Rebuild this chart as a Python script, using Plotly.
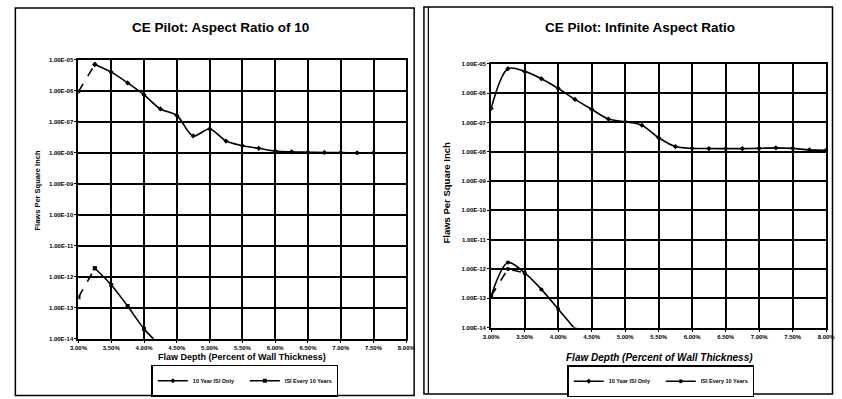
import plotly.graph_objects as go

# ---------------- data ----------------
depth = [0.0300, 0.0325, 0.0350, 0.0375, 0.0400, 0.0425, 0.0450, 0.0475, 0.0500,
         0.0525, 0.0550, 0.0575, 0.0600, 0.0625, 0.0650, 0.0675, 0.0700, 0.0725,
         0.0750, 0.0775, 0.0800]

# Left chart: Aspect Ratio of 10
left_isi_only = [None, 7.1e-6, 4.0e-6, 1.8e-6, 7.4e-7, 2.6e-7, 1.6e-7, 3.5e-8, 5.9e-8,
                 2.4e-8, 1.7e-8, 1.4e-8, 1.15e-8, 1.08e-8, 1.05e-8, 1.03e-8, 1.02e-8,
                 1.0e-8, 1.0e-8, None, None]
left_isi_only_start = [9.5e-7, 7.1e-6]
left_isi_every = [None, 1.9e-12, 5.5e-13, 1.14e-13, 2.1e-14, 6.0e-15]
left_isi_every_start = [2.2e-13, 1.9e-12]

# Right chart: Infinite Aspect Ratio
right_isi_only = [3.0e-7, 6.8e-6, 5.5e-6, 3.1e-6, 1.45e-6, 6.1e-7, 2.8e-7, 1.3e-7, 1.05e-7,
                  8.0e-8, 3.0e-8, 1.5e-8, 1.3e-8, 1.28e-8, 1.27e-8, 1.27e-8, 1.3e-8,
                  1.35e-8, 1.3e-8, 1.15e-8, 1.12e-8]
right_isi_every = [1.2e-13, 1.66e-12, 7.3e-13, 2.0e-13, 4.3e-14, 9.0e-15]
right_isi_every_alt = [1.2e-13, 1.0e-12, 7.3e-13]

y_tickvals = [1e-14, 1e-13, 1e-12, 1e-11, 1e-10, 1e-9, 1e-8, 1e-7, 1e-6, 1e-5]
y_ticktext = ["1.00E-14", "1.00E-13", "1.00E-12", "1.00E-11", "1.00E-10",
              "1.00E-09", "1.00E-08", "1.00E-07", "1.00E-06", "1.00E-05"]
x_tickvals = [0.030, 0.035, 0.040, 0.045, 0.050, 0.055, 0.060, 0.065, 0.070, 0.075, 0.080]
x_ticktext = ["3.00%", "3.50%", "4.00%", "4.50%", "5.00%", "5.50%", "6.00%",
              "6.50%", "7.00%", "7.50%", "8.00%"]

series_names = ["10 Year ISI Only", "ISI Every 10 Years"]
titles = ["CE Pilot: Aspect Ratio of 10", "CE Pilot: Infinite Aspect Ratio"]

FONT = "Liberation Sans, Arial, sans-serif"
W, H = 842, 399

fig = go.Figure()

def line_trace(x, y, xa, ya, name, dash="solid", symbol="diamond", legend="legend",
               showlegend=True, shape="spline"):
    return go.Scatter(
        x=x, y=y, xaxis=xa, yaxis=ya, name=name, mode="lines+markers",
        line=dict(color="black", width=1.6, dash=dash, shape=shape, smoothing=0.9),
        marker=dict(color="black", size=4, symbol=symbol),
        showlegend=showlegend, legend=legend, connectgaps=False,
    )

# left chart
fig.add_trace(line_trace(depth, left_isi_only, "x", "y", series_names[0], symbol="diamond"))
fig.add_trace(line_trace(depth[:2], left_isi_only_start, "x", "y", series_names[0],
                         dash="dash", showlegend=False, shape="linear"))
fig.add_trace(line_trace(depth[:6], left_isi_every, "x", "y", series_names[1], symbol="square"))
fig.add_trace(line_trace(depth[:2], left_isi_every_start, "x", "y", series_names[1],
                         dash="dash", symbol="square", showlegend=False, shape="linear"))

# right chart
fig.add_trace(line_trace(depth, right_isi_only, "x2", "y2", series_names[0],
                         symbol="diamond", legend="legend2"))
fig.add_trace(line_trace(depth[:6], right_isi_every, "x2", "y2", series_names[1],
                         symbol="circle", legend="legend2"))
fig.add_trace(line_trace(depth[:3], right_isi_every_alt, "x2", "y2", series_names[1],
                         dash="dash", symbol="circle", legend="legend2",
                         showlegend=False, shape="linear"))

def px_x(p):
    return p / W

def px_y(p):
    return 1 - p / H

axis_common = dict(
    showline=True, mirror=True, linecolor="black", linewidth=2,
    showgrid=True, gridcolor="black", gridwidth=1.8, zeroline=False,
    ticks="outside", ticklen=2, tickcolor="black",
    tickfont=dict(family=FONT, size=6, color="black", weight="bold"),
)

legend_common = dict(
    orientation="h", xanchor="center", yanchor="middle",
    bordercolor="black", borderwidth=1.5, bgcolor="white",
    font=dict(family=FONT, size=5.5, color="black", weight="bold"),
    itemwidth=30, tracegroupgap=0, entrywidthmode="pixels", entrywidth=47,
)

fig.update_layout(
    width=W, height=H, margin=dict(l=0, r=0, t=0, b=0),
    paper_bgcolor="white", plot_bgcolor="white",
    font=dict(family=FONT, color="black"),
    xaxis=dict(domain=[px_x(71), px_x(406)], anchor="y", range=[0.03, 0.08],
               tickvals=x_tickvals, ticktext=x_ticktext, **axis_common),
    yaxis=dict(domain=[px_y(341), px_y(57.7)], anchor="x", type="log", range=[-14, -5],
               tickvals=y_tickvals, ticktext=y_ticktext, **axis_common),
    xaxis2=dict(domain=[px_x(492.7), px_x(835)], anchor="y2", range=[0.03, 0.08],
                tickvals=x_tickvals, ticktext=x_ticktext, **axis_common),
    yaxis2=dict(domain=[px_y(329.5), px_y(61.7)], anchor="x2", type="log", range=[-14, -5],
                tickvals=y_tickvals, ticktext=y_ticktext, **axis_common),
    legend=dict(x=px_x(241), y=px_y(383.5), **legend_common),
    legend2=dict(x=px_x(666), y=px_y(384), **legend_common),
    showlegend=True,
)

# panel borders
fig.add_shape(type="rect", xref="paper", yref="paper",
              x0=px_x(6.5), x1=px_x(414), y0=px_y(398.5), y1=px_y(5),
              line=dict(color="black", width=1.5), layer="below")
fig.add_shape(type="rect", xref="paper", yref="paper",
              x0=px_x(424), x1=px_x(841.5), y0=px_y(397), y1=px_y(4),
              line=dict(color="black", width=1.5), layer="below")
fig.add_shape(type="line", xref="paper", yref="paper",
              x0=px_x(428.5), x1=px_x(428.5), y0=px_y(397), y1=px_y(4),
              line=dict(color="black", width=1.2), layer="below")

# titles
fig.add_annotation(text="<b>" + titles[0] + "</b>", xref="paper", yref="paper",
                   x=px_x(216), y=px_y(25), showarrow=False, xanchor="center", yanchor="middle",
                   font=dict(family=FONT, size=13.5, color="black"))
fig.add_annotation(text="<b>" + titles[1] + "</b>", xref="paper", yref="paper",
                   x=px_x(645), y=px_y(25), showarrow=False, xanchor="center", yanchor="middle",
                   font=dict(family=FONT, size=13.5, color="black"))

# axis titles
fig.add_annotation(text="<b>Flaw Depth (Percent of Wall Thickness)</b>", xref="paper", yref="paper",
                   x=px_x(238), y=px_y(359), showarrow=False, xanchor="center", yanchor="middle",
                   font=dict(family=FONT, size=9, color="black"))
fig.add_annotation(text="<b><i>Flaw Depth (Percent of Wall Thickness)</i></b>", xref="paper",
                   yref="paper", x=px_x(665), y=px_y(360), showarrow=False, xanchor="center",
                   yanchor="middle", font=dict(family=FONT, size=10, color="black"))
fig.add_annotation(text="<b>Flaws Per Square Inch</b>", xref="paper", yref="paper",
                   x=px_x(29), y=px_y(190), showarrow=False, textangle=-90,
                   xanchor="center", yanchor="middle",
                   font=dict(family=FONT, size=7.5, color="black"))
fig.add_annotation(text="<b>Flaws Per Square Inch</b>", xref="paper", yref="paper",
                   x=px_x(447), y=px_y(192), showarrow=False, textangle=-90,
                   xanchor="center", yanchor="middle",
                   font=dict(family=FONT, size=9.5, color="black"))

fig.write_html("out.html", config={"displayModeBar": False},
               post_script="document.body.style.margin='0';document.body.style.padding='0';")
